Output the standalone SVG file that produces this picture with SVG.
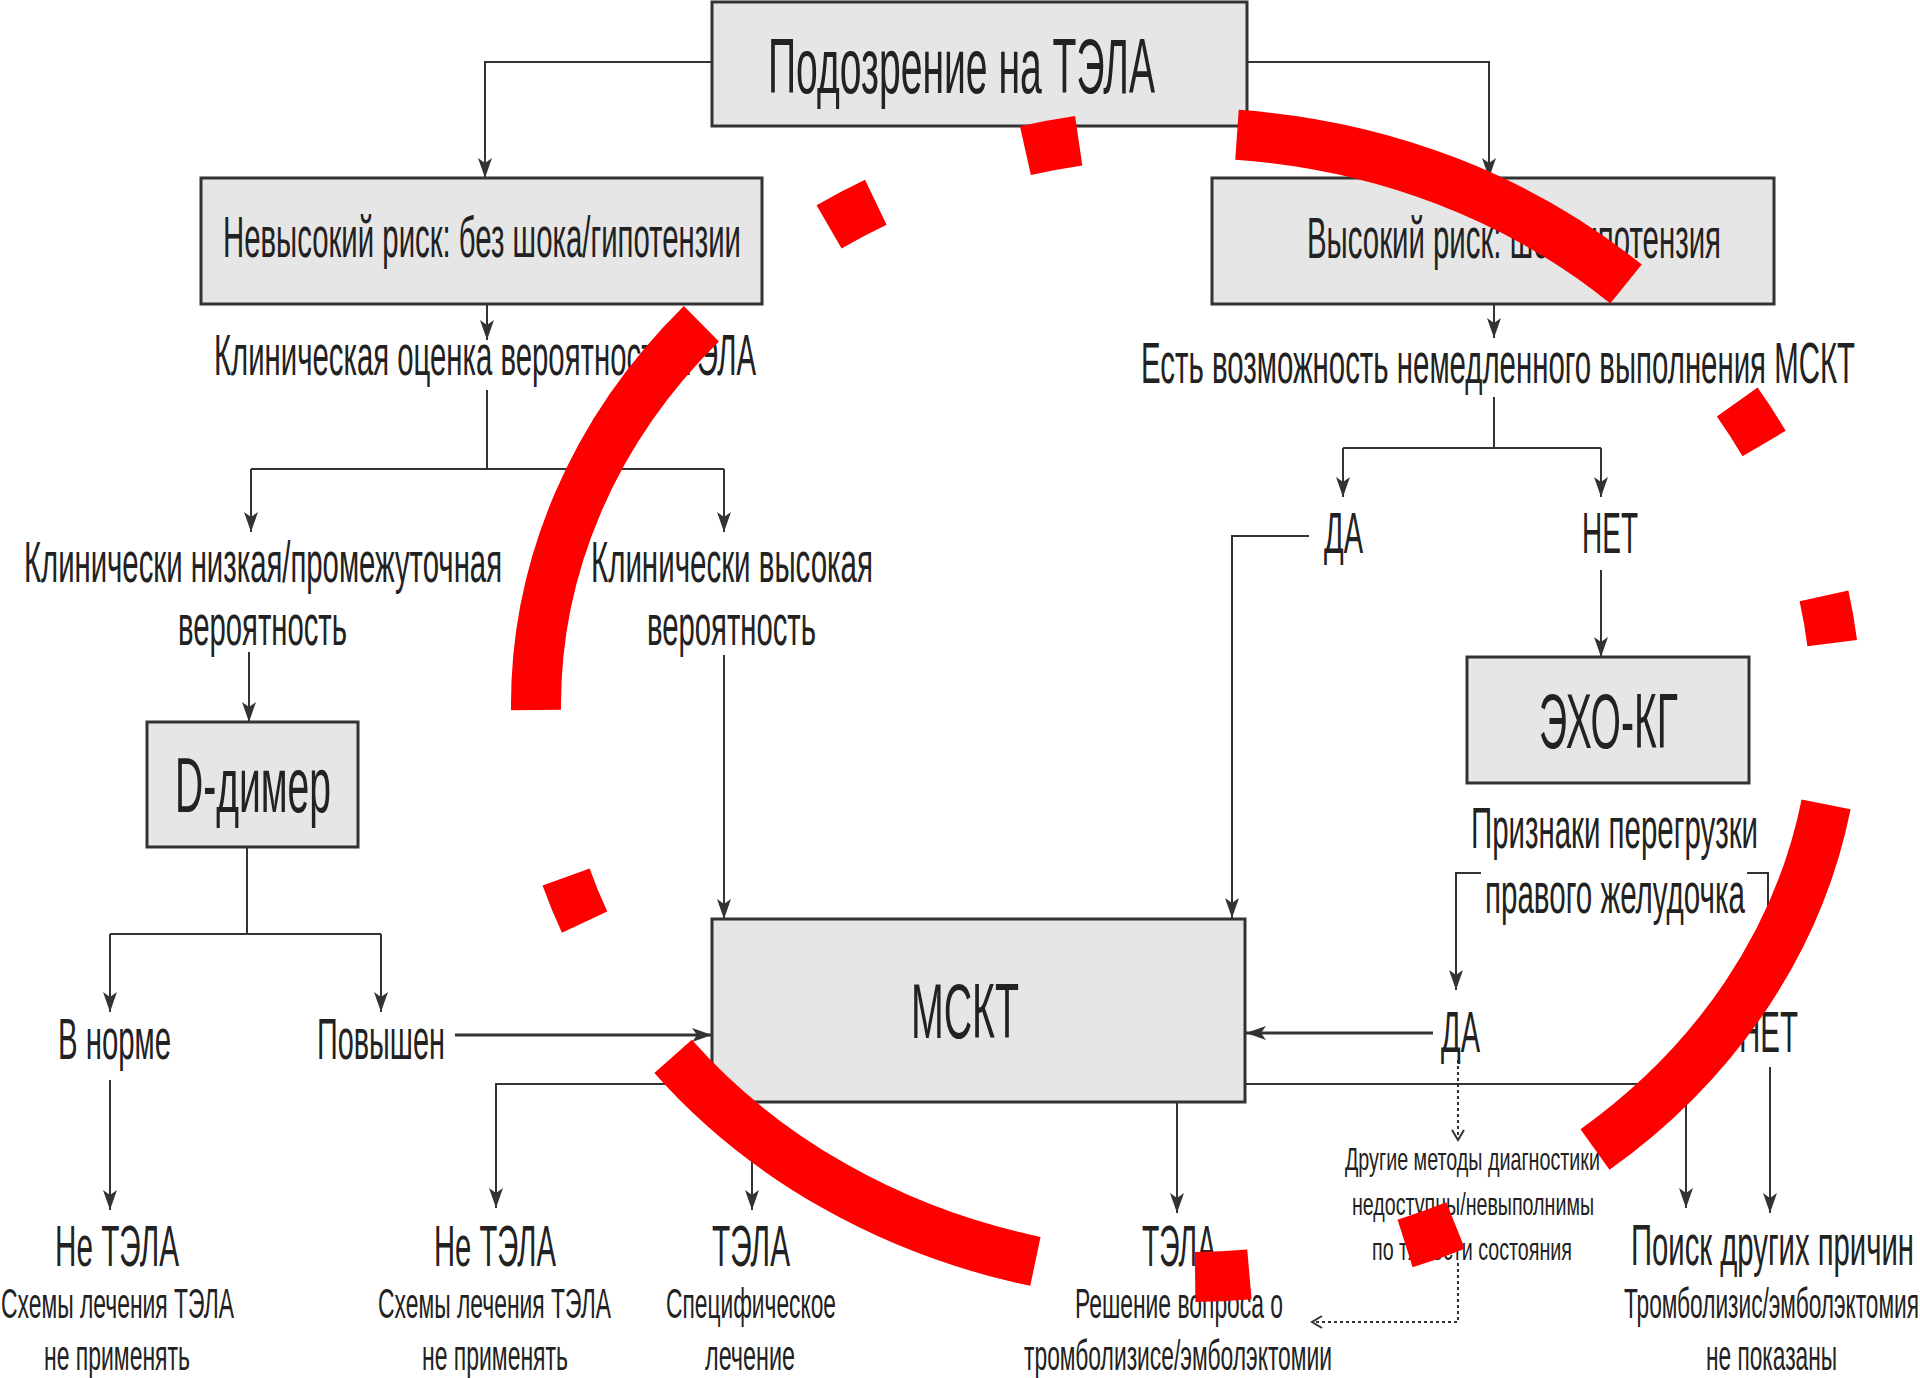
<svg xmlns="http://www.w3.org/2000/svg" width="1920" height="1378" viewBox="0 0 1920 1378">
<style>
.box{fill:#e6e6e6;stroke:#333;stroke-width:3}
.t{font-family:"Liberation Sans",Arial,sans-serif;fill:#222}
.xl{font-size:77px}
.m{font-size:57px}
.s{font-size:42px}
.xs{font-size:32px}
.c{fill:none;stroke:#333;stroke-width:2}
.ca{fill:none;stroke:#333;stroke-width:2;marker-end:url(#ah)}
.cw{fill:none;stroke:#333;stroke-width:3;marker-end:url(#ah)}
.cd{fill:none;stroke:#333;stroke-width:2;stroke-dasharray:3 3;marker-end:url(#oa)}
.red{fill:none;stroke:#ff0000;stroke-width:50}
</style>
<defs>
<marker id="ah" markerWidth="22" markerHeight="14" refX="20" refY="7" orient="auto" markerUnits="userSpaceOnUse"><path d="M0,0 L20,7 L0,14 L5,7 z" fill="#333"/></marker>
<marker id="oa" markerWidth="14" markerHeight="14" refX="11" refY="7" orient="auto" markerUnits="userSpaceOnUse"><path d="M1,1 L11,7 L1,13" fill="none" stroke="#333" stroke-width="2"/></marker>
</defs>
<rect width="1920" height="1378" fill="#fff"/>

<g id="connectors">
<path class="ca" d="M712 62 H485 V178"/>
<path class="ca" d="M1247 62 H1489 V178"/>
<path class="ca" d="M487 304 V340"/>
<path class="c" d="M487 390 V469 M251 469 H724"/>
<path class="ca" d="M251 469 V532"/>
<path class="ca" d="M724 469 V532"/>
<path class="ca" d="M249 652 V722"/>
<path class="ca" d="M724 655 V919"/>
<path class="c" d="M247 847 V934 M110 934 H381"/>
<path class="ca" d="M110 934 V1012"/>
<path class="ca" d="M381 934 V1012"/>
<path class="cw" d="M455 1035 H712"/>
<path class="ca" d="M110 1080 V1210"/>
<path class="ca" d="M712 1084 H496 V1208"/>
<path class="ca" d="M752 1102 V1210"/>
<path class="ca" d="M1177 1102 V1213"/>
<path class="ca" d="M1245 1084 H1686 V1208"/>
<path class="ca" d="M1770 1067 V1213"/>
<path class="ca" d="M1494 304 V338"/>
<path class="c" d="M1494 397 V448 M1343 448 H1601"/>
<path class="ca" d="M1343 448 V497"/>
<path class="ca" d="M1601 448 V497"/>
<path class="ca" d="M1309 536 H1232 V918"/>
<path class="ca" d="M1601 570 V657"/>
<path class="ca" d="M1481 873 H1456 V990"/>
<path class="ca" d="M1747 873 H1768 V996"/>
<path class="cw" d="M1433 1033 H1246"/>
<path class="cd" d="M1458 1060 V1140"/>
<path class="cd" d="M1458 1263 V1322 H1312"/>
</g>

<g id="n-suspect"><rect class="box" x="712" y="2" width="535" height="124"/>
<text class="t xl" x="768" y="93" textLength="387" lengthAdjust="spacingAndGlyphs">Подозрение на ТЭЛА</text></g>

<g id="n-lowrisk"><rect class="box" x="201" y="178" width="561" height="126"/>
<text class="t m" x="223" y="257" textLength="518" lengthAdjust="spacingAndGlyphs">Невысокий риск: без шока/гипотензии</text></g>

<g id="n-highrisk"><rect class="box" x="1212" y="178" width="562" height="126"/>
<text class="t m" x="1307" y="258" textLength="414" lengthAdjust="spacingAndGlyphs">Высокий риск: шок/гипотензия</text></g>

<g id="n-clin"><text class="t m" x="214" y="375" textLength="542" lengthAdjust="spacingAndGlyphs">Клиническая оценка вероятности ТЭЛА</text></g>

<g id="n-mskt-q"><text class="t m" x="1141" y="383" textLength="714" lengthAdjust="spacingAndGlyphs">Есть возможность немедленного выполнения МСКТ</text></g>

<g id="n-lowprob">
<text class="t m" x="24" y="582" textLength="478" lengthAdjust="spacingAndGlyphs">Клинически низкая/промежуточная</text>
<text class="t m" x="178" y="645" textLength="169" lengthAdjust="spacingAndGlyphs">вероятность</text></g>

<g id="n-highprob">
<text class="t m" x="591" y="582" textLength="282" lengthAdjust="spacingAndGlyphs">Клинически высокая</text>
<text class="t m" x="647" y="645" textLength="169" lengthAdjust="spacingAndGlyphs">вероятность</text></g>

<g id="n-yes1"><text class="t m" x="1324" y="553" textLength="39" lengthAdjust="spacingAndGlyphs">ДА</text></g>
<g id="n-no1"><text class="t m" x="1582" y="553" textLength="56" lengthAdjust="spacingAndGlyphs">НЕТ</text></g>

<g id="n-ddimer"><rect class="box" x="147" y="722" width="211" height="125"/>
<text class="t xl" x="175" y="812" textLength="156" lengthAdjust="spacingAndGlyphs">D-димер</text></g>

<g id="n-echo"><rect class="box" x="1467" y="657" width="282" height="126"/>
<text class="t xl" x="1539" y="748" textLength="139" lengthAdjust="spacingAndGlyphs">ЭХО-КГ</text></g>

<g id="n-rv">
<text class="t m" x="1471" y="848" textLength="287" lengthAdjust="spacingAndGlyphs">Признаки перегрузки</text>
<text class="t m" x="1485" y="913" textLength="260" lengthAdjust="spacingAndGlyphs">правого желудочка</text></g>

<g id="n-mskt"><rect class="box" x="712" y="919" width="533" height="183"/>
<text class="t xl" x="911" y="1038" textLength="108" lengthAdjust="spacingAndGlyphs">МСКТ</text></g>

<g id="n-normal"><text class="t m" x="58" y="1059" textLength="113" lengthAdjust="spacingAndGlyphs">В норме</text></g>
<g id="n-raised"><text class="t m" x="317" y="1059" textLength="128" lengthAdjust="spacingAndGlyphs">Повышен</text></g>

<g id="n-yes2"><text class="t m" x="1441" y="1052" textLength="39" lengthAdjust="spacingAndGlyphs">ДА</text></g>
<g id="n-no2"><text class="t m" x="1739" y="1052" textLength="59" lengthAdjust="spacingAndGlyphs">НЕТ</text></g>

<g id="n-other">
<text class="t xs" x="1345" y="1170" textLength="255" lengthAdjust="spacingAndGlyphs">Другие методы диагностики</text>
<text class="t xs" x="1352" y="1215" textLength="242" lengthAdjust="spacingAndGlyphs">недоступны/невыполнимы</text>
<text class="t xs" x="1372" y="1260" textLength="200" lengthAdjust="spacingAndGlyphs">по тяжести состояния</text></g>

<g id="n-notpe1">
<text class="t m" x="55" y="1266" textLength="124" lengthAdjust="spacingAndGlyphs">Не ТЭЛА</text>
<text class="t s" x="1" y="1318" textLength="233" lengthAdjust="spacingAndGlyphs">Схемы лечения ТЭЛА</text>
<text class="t s" x="44" y="1370" textLength="146" lengthAdjust="spacingAndGlyphs">не применять</text></g>

<g id="n-notpe2">
<text class="t m" x="434" y="1266" textLength="122" lengthAdjust="spacingAndGlyphs">Не ТЭЛА</text>
<text class="t s" x="378" y="1318" textLength="233" lengthAdjust="spacingAndGlyphs">Схемы лечения ТЭЛА</text>
<text class="t s" x="422" y="1370" textLength="146" lengthAdjust="spacingAndGlyphs">не применять</text></g>

<g id="n-pe1">
<text class="t m" x="712" y="1266" textLength="78" lengthAdjust="spacingAndGlyphs">ТЭЛА</text>
<text class="t s" x="666" y="1318" textLength="170" lengthAdjust="spacingAndGlyphs">Специфическое</text>
<text class="t s" x="705" y="1370" textLength="90" lengthAdjust="spacingAndGlyphs">лечение</text></g>

<g id="n-pe2">
<text class="t m" x="1142" y="1266" textLength="74" lengthAdjust="spacingAndGlyphs">ТЭЛА</text>
<text class="t s" x="1075" y="1318" textLength="208" lengthAdjust="spacingAndGlyphs">Решение вопроса о</text>
<text class="t s" x="1024" y="1370" textLength="308" lengthAdjust="spacingAndGlyphs">тромболизисе/эмболэктомии</text></g>

<g id="n-search">
<text class="t m" x="1631" y="1265" textLength="283" lengthAdjust="spacingAndGlyphs">Поиск других причин</text>
<text class="t s" x="1624" y="1318" textLength="295" lengthAdjust="spacingAndGlyphs">Тромболизис/эмболэктомия</text>
<text class="t s" x="1706" y="1370" textLength="131" lengthAdjust="spacingAndGlyphs">не показаны</text></g>

<g id="red-ring">
<path class="red" d="M536 710 A650 572 0 0 1 701.4 323.8"/>
<path class="red" d="M584.6 922.1 A650 572 0 0 1 566.1 877"/>
<path class="red" d="M1035.4 1261.4 A650 572 0 0 1 673.1 1056.4"/>
<path class="red" d="M1249.4 1274.3 A650 572 0 0 1 1195.1 1277"/>
<path class="red" d="M1455.6 1225.5 A650 572 0 0 1 1405.1 1243.5"/>
<path class="red" d="M1826.1 804.3 A650 572 0 0 1 1595 1149.5"/>
<path class="red" d="M1824 595.9 A650 572 0 0 1 1832.2 643.2"/>
<path class="red" d="M1737.2 401.9 A650 572 0 0 1 1764.1 443.5"/>
<path class="red" d="M1237 134.8 A650 572 0 0 1 1626 284"/>
<path class="red" d="M1025.4 150.7 A650 572 0 0 1 1078.7 140.8"/>
<path class="red" d="M829.1 226.9 A650 572 0 0 1 875.8 202.3"/>
</g>
</svg>
